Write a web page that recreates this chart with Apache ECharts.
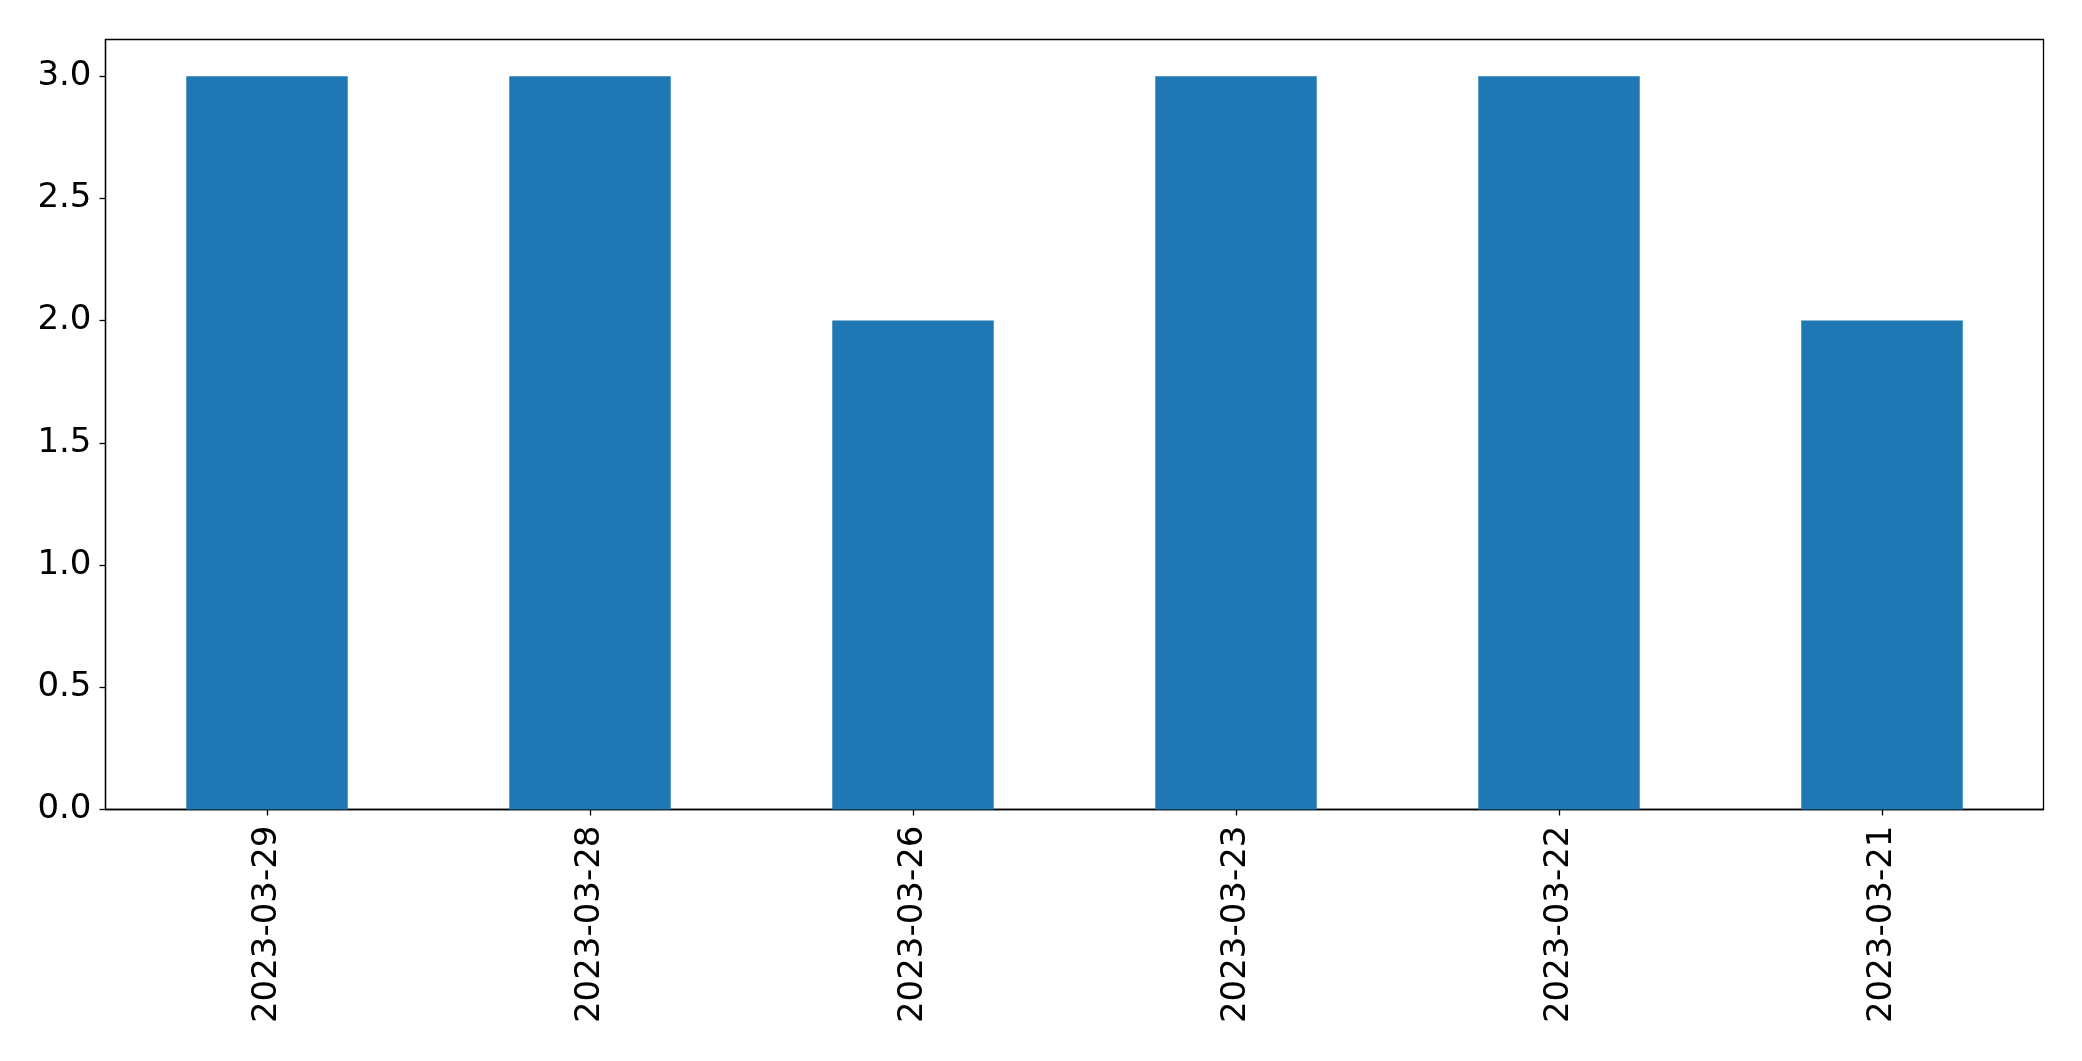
<!DOCTYPE html>
<html>
<head>
<meta charset="utf-8">
<script src="https://cdn.jsdelivr.net/npm/echarts@6/dist/echarts.min.js"></script>
<style>
html,body{margin:0;padding:0;background:#fff;}
#chart{width:2082px;height:1061px;}
</style>
</head>
<body>
<div id="chart"></div>
<script>
const categories = ["2023-03-29", "2023-03-28", "2023-03-26", "2023-03-23", "2023-03-22", "2023-03-21"];
const values = [3, 3, 2, 3, 3, 2];
const yTicks = [0, 0.5, 1, 1.5, 2, 2.5, 3];

const chart = echarts.init(document.getElementById('chart'), null, {renderer: 'canvas'});
const font = 'DejaVu Sans';
chart.setOption({
  animation: false,
  backgroundColor: '#fff',
  grid: {
    left: 105.5, right: 38.5, top: 39.5, bottom: 251.5,
    show: true, borderColor: '#000', borderWidth: 1.3, backgroundColor: 'transparent'
  },
  xAxis: {
    type: 'category',
    data: categories,
    boundaryGap: true,
    axisLine: {show: true, lineStyle: {color: '#000', width: 1.3}},
    axisTick: {show: true, alignWithLabel: true, length: 6, lineStyle: {color: '#000', width: 1.3}},
    axisLabel: {rotate: 90, margin: 16, fontSize: 34, fontFamily: font, color: '#000'},
    splitLine: {show: false}
  },
  yAxis: {
    type: 'value',
    min: 0, max: 3.15, interval: 0.5,
    axisLine: {show: true, lineStyle: {color: '#000', width: 1.3}},
    axisTick: {show: true, length: 6, lineStyle: {color: '#000', width: 1.3}, customValues: yTicks},
    axisLabel: {margin: 14, fontSize: 34, fontFamily: font, color: '#000', customValues: yTicks,
      formatter: v => v.toFixed(1)},
    splitLine: {show: false}
  },
  series: [{
    type: 'bar',
    data: values,
    barWidth: '50%',
    itemStyle: {color: '#1f77b4'}
  }]
});
</script>
</body>
</html>
